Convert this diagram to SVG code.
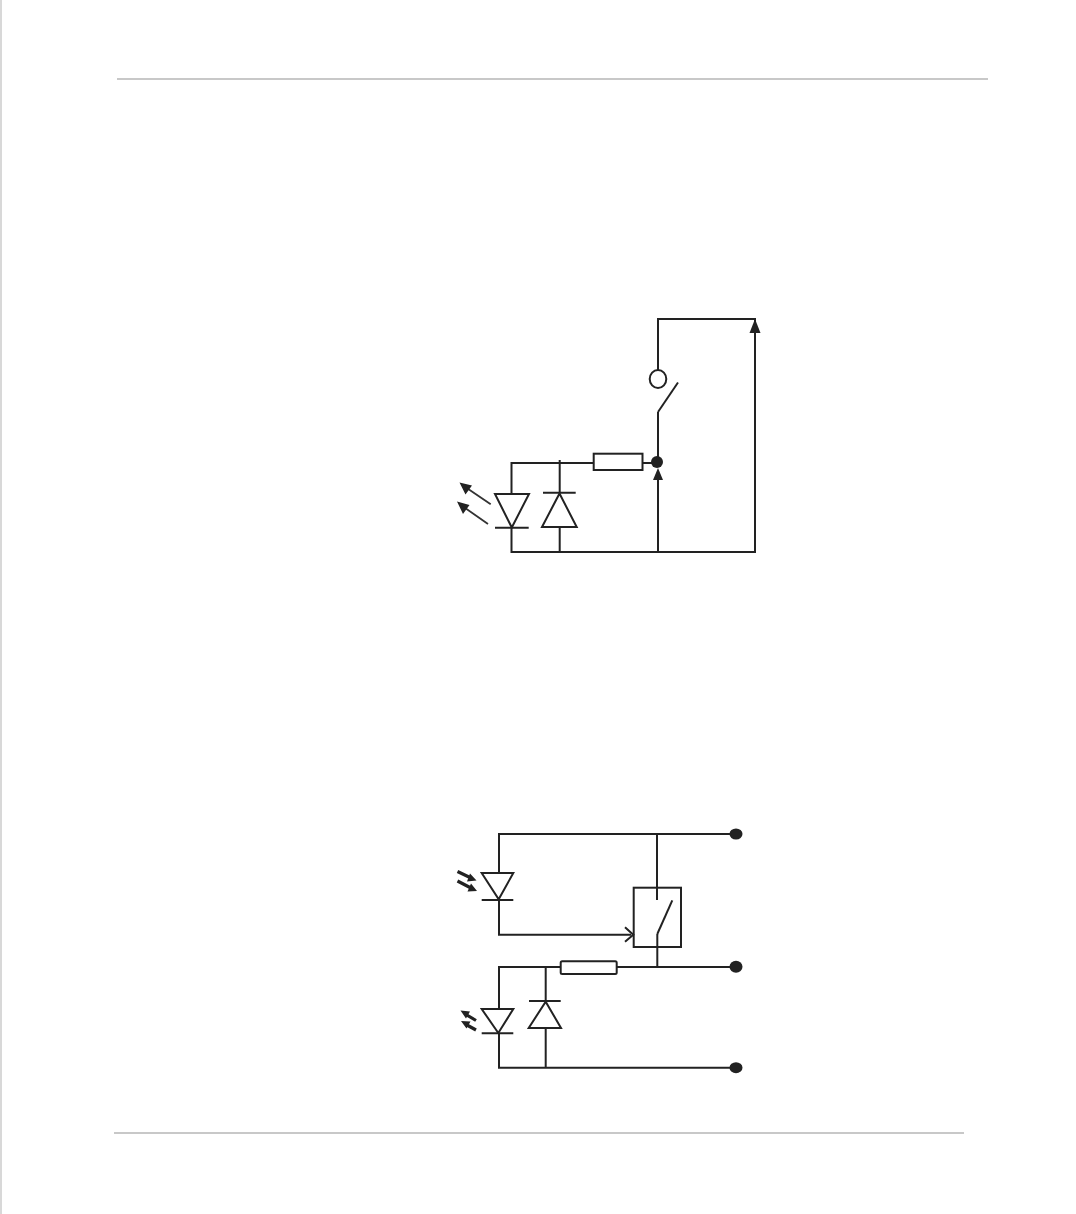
<svg xmlns="http://www.w3.org/2000/svg" width="1076" height="1214" viewBox="0 0 1076 1214">
<defs>
<style>
.w{fill:none;stroke:#222;stroke-width:2;stroke-linecap:butt}
.k{fill:none;stroke:#222;stroke-width:3.200}
.t{fill:none;stroke:#333;stroke-width:1.800}
.s{fill:#fff;stroke:#222;stroke-width:2}
.b{fill:none;stroke:#222;stroke-width:2}
.p{fill:#222;stroke:none}
.r{fill:none;stroke:#c8c8c8;stroke-width:2}
.e{fill:none;stroke:#d8d8d8;stroke-width:2}
</style>
</defs>
<rect width="1076" height="1214" fill="#fff"/>
<g id="page-rules">
<path class="e" d="M1 0V1214"/>
<path class="r" d="M117 79H988"/>
<path class="r" d="M114 1133H964"/>
</g>
<g id="connectors">
<path class="w" d="M658 370V319H755V552H511.500V528M511.500 494V463H593.500M642.500 463H652M559.700 460V493M559.700 527V552M658 552V476M658 461V412"/>
<path class="w" d="M499 873V834H730M657 834V900M657.300 934V967M499 900V934.700H631M499 1009V967H561M617 967H730M499 1033V1067.700H730M545.700 967V1001M545.700 1028V1067.700"/>
</g>
<g id="fig1-lamp"><ellipse class="s" cx="658" cy="379" rx="8.300" ry="9"/></g>
<g id="fig1-switch"><path class="w" d="M678 382.500L658 412"/></g>
<g id="fig1-arrow-top"><path class="p" d="M755 319L760.500 333H749.500Z"/></g>
<g id="fig1-junction"><circle class="p" cx="657" cy="462" r="6"/></g>
<g id="fig1-arrow-mid"><path class="p" d="M658 468L663 480H653Z"/></g>
<g id="fig1-resistor"><rect class="s" x="593.700" y="453.700" width="48.800" height="16.300"/></g>
<g id="fig1-led">
<path class="s" d="M495 494H529L511.800 527.500Z"/>
<path class="w" d="M495 527.700H528.700"/>
<path class="t" d="M490.700 504.300L466 487.500M488 524L463 506.500"/>
<path class="p" d="M459.500 482.500L472 485.500L465.500 494.500ZM457 501.500L469.500 505L463 514Z"/>
</g>
<g id="fig1-diode">
<path class="s" d="M542 527H576.700L559.500 493.500Z"/>
<path class="w" d="M543 492.700H575.700"/>
</g>
<g id="fig2-terminal-1"><ellipse class="p" cx="736" cy="834" rx="6.500" ry="5.500"/></g>
<g id="fig2-terminal-2"><ellipse class="p" cx="736" cy="966.700" rx="6.500" ry="6"/></g>
<g id="fig2-terminal-3"><ellipse class="p" cx="736" cy="1067.700" rx="6.500" ry="5.500"/></g>
<g id="fig2-photodiode">
<path class="s" d="M481.700 873H513.300L498.700 899.300Z"/>
<path class="w" d="M481.700 900H513.300"/>
<path class="k" d="M457.500 871.500L470 877.500M457.500 881L470 887.500"/>
<path class="p" d="M476.500 880.500L467 881.500L470 873.500ZM477 891L467.500 891.500L471 883.500Z"/>
</g>
<g id="fig2-relay">
<rect class="b" x="633.700" y="887.700" width="47.300" height="59.300"/>
<path class="w" d="M672.300 900.300L657.300 934"/>
</g>
<g id="fig2-input-arrow"><path class="w" d="M625 927.300L633.300 934.700L625 941.700"/></g>
<g id="fig2-resistor"><rect class="s" x="560.700" y="961.300" width="56" height="12.700" rx="1.500"/></g>
<g id="fig2-led">
<path class="s" d="M481.700 1009H513.300L498.300 1033Z"/>
<path class="w" d="M481.700 1033.300H513.300"/>
<path class="k" d="M476 1020.500L466 1014.500M476 1030L466 1024.500"/>
<path class="p" d="M460.500 1010.500L470 1011.500L466 1018.500ZM461 1021L470.500 1021.500L466.500 1028.500Z"/>
</g>
<g id="fig2-diode">
<path class="s" d="M528.700 1028H561L545.700 1001.700Z"/>
<path class="w" d="M529 1001H560.700"/>
</g>
</svg>
